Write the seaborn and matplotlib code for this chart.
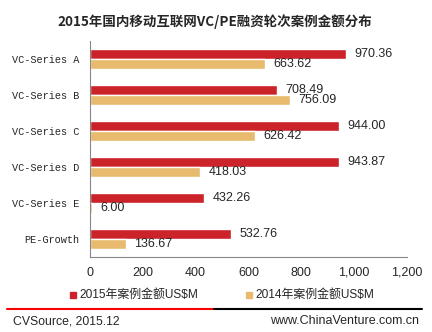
import matplotlib
matplotlib.use("Agg")
import matplotlib.pyplot as plt
import seaborn as sns
import pandas as pd
from matplotlib.lines import Line2D
from matplotlib.patches import Rectangle

categories = ["VC-Series A", "VC-Series B", "VC-Series C", "VC-Series D", "VC-Series E", "PE-Growth"]
values_2015 = [970.36, 708.49, 944.00, 943.87, 432.26, 532.76]
values_2014 = [663.62, 756.09, 626.42, 418.03, 6.00, 136.67]
series_names = ["2015年案例金额US$M", "2014年案例金额US$M"]
xticks = [0, 200, 400, 600, 800, 1000, 1200]
xtick_labels = ["0", "200", "400", "600", "800", "1,000", "1,200"]
title = "2015年国内移动互联网VC/PE融资轮次案例金额分布"
colors = ["#CC2229", "#E8BA6E"]

sns.set_style("white")
plt.rcParams['font.family'] = ['Liberation Sans', 'Noto Sans CJK SC', 'DejaVu Sans']

df = pd.DataFrame({
    "cat": categories * 2,
    "val": values_2015 + values_2014,
    "series": [series_names[0]] * len(categories) + [series_names[1]] * len(categories),
})

fig = plt.figure(figsize=(4.32, 3.32), dpi=100)
ax = fig.add_axes([90 / 432, 1 - 257 / 332, (407 - 90) / 432, (257 - 41) / 332])
sns.barplot(data=df, y="cat", x="val", hue="series", order=categories,
            hue_order=series_names, palette=colors, orient="h", width=0.56,
            saturation=1, ax=ax, legend=False)
ax.set_xlim(0, 1200)
ax.set_ylim(len(categories) - 0.5, -0.5)
ax.set_xticks(xticks)
ax.set_xticklabels(xtick_labels, fontsize=9)
ax.set_xlabel("")
ax.set_ylabel("")
ax.tick_params(axis="x", length=0, pad=7)
ax.tick_params(axis="y", length=0, pad=8)
for lab in ax.get_yticklabels():
    lab.set_family(["Liberation Mono", "DejaVu Sans Mono"])
    lab.set_fontsize(7.4)
for side in ["top", "right"]:
    ax.spines[side].set_visible(False)
for side in ["left", "bottom"]:
    ax.spines[side].set_color("#888888")
    ax.spines[side].set_linewidth(0.8)

for container in ax.containers:
    ax.bar_label(container, fmt="%.2f", padding=6, fontsize=9)

fig.text(215 / 432, 1 - 22 / 332, title, ha="center", va="center",
         fontsize=9.7, fontweight="bold", family=["Noto Sans CJK SC", "DejaVu Sans"])

# legend
ly = 1 - 295 / 332
for x0, name, c in [(73, series_names[0], colors[0]), (249, series_names[1], colors[1])]:
    fig.patches.append(Rectangle(((x0 - 3) / 432, ly - 3 / 332), 6 / 432, 6 / 332,
                                 transform=fig.transFigure, color=c))
    fig.text((x0 + 6) / 432, ly, name, ha="left", va="center", fontsize=8.6,
             family=["Liberation Sans", "Noto Sans CJK SC"])

# footer lines
yl = 1 - 309 / 332
fig.add_artist(Line2D([7 / 432, 214 / 432], [yl, yl], color="#FF0000", lw=1.5,
                      transform=fig.transFigure))
fig.add_artist(Line2D([214 / 432, 422 / 432], [yl, yl], color="#000000", lw=1.5,
                      transform=fig.transFigure))
fig.text(13 / 432, 1 - 321 / 332, "CVSource, 2015.12", ha="left", va="center", fontsize=8.8)
fig.text(419 / 432, 1 - 321 / 332, "www.ChinaVenture.com.cn", ha="right", va="center", fontsize=9)

fig.savefig("out.png", dpi=100)
